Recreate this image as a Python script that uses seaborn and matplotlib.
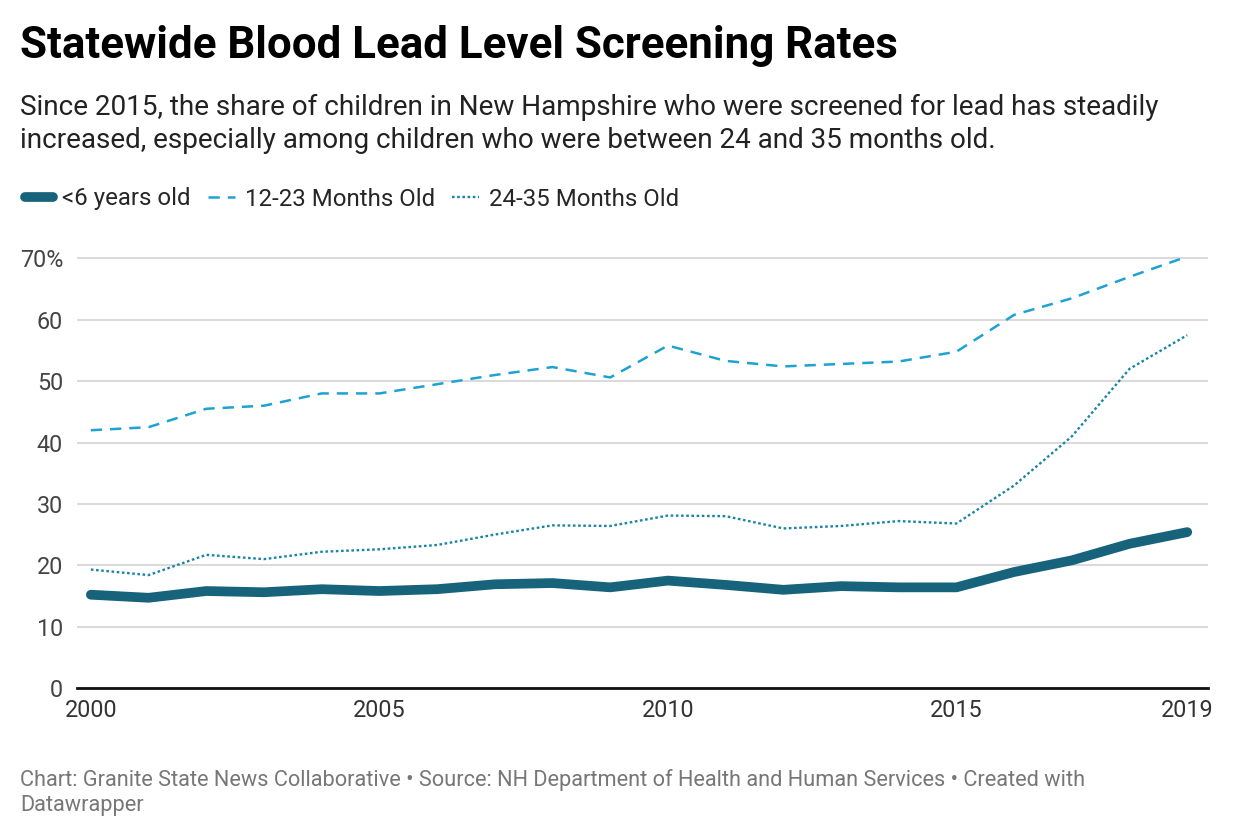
import matplotlib
matplotlib.use("Agg")
import matplotlib.pyplot as plt
import seaborn as sns
import pandas as pd

years = list(range(2000, 2020))
under_6 = [15.2, 14.7, 15.8, 15.6, 16.1, 15.8, 16.1, 16.9, 17.1, 16.4,
           17.5, 16.8, 16.0, 16.6, 16.4, 16.4, 18.9, 20.8, 23.5, 25.4]
months_12_23 = [42.0, 42.5, 45.5, 46.0, 48.0, 48.0, 49.5, 51.0, 52.3, 50.6,
                55.8, 53.3, 52.4, 52.8, 53.2, 54.8, 60.8, 63.5, 67.0, 70.3]
months_24_35 = [19.3, 18.4, 21.7, 21.0, 22.2, 22.6, 23.3, 25.0, 26.5, 26.4,
                28.1, 28.0, 26.0, 26.4, 27.2, 26.8, 33.0, 41.0, 52.0, 57.5]
series_names = ["<6 years old", "12-23 Months Old", "24-35 Months Old"]
y_ticks = [0, 10, 20, 30, 40, 50, 60, 70]
x_ticks = [2000, 2005, 2010, 2015, 2019]

df = pd.DataFrame({"year": years, series_names[0]: under_6,
                   series_names[1]: months_12_23, series_names[2]: months_24_35})

sns.set_style("white")
plt.rcParams["font.family"] = ["Roboto", "DejaVu Sans"]

fig = plt.figure(figsize=(12.4, 8.4), dpi=100)
ax = fig.add_axes([77 / 1240, 152 / 840, 1131 / 1240, 448 / 840])

sns.lineplot(data=df, x="year", y=series_names[1], ax=ax, color="#1ea2d2",
             linewidth=1.8, label=series_names[1])
ax.lines[-1].set_dashes([4.5, 3.2])
sns.lineplot(data=df, x="year", y=series_names[2], ax=ax, color="#1a84a6",
             linewidth=1.7, label=series_names[2])
ax.lines[-1].set_dashes([1.1, 1.1])
sns.lineplot(data=df, x="year", y=series_names[0], ax=ax, color="#17637c",
             linewidth=7, label=series_names[0], solid_capstyle="round")

ax.set_xlim(1999.76, 2019.36)
ax.set_ylim(0, 73)
ax.set_yticks(y_ticks)
ax.set_yticklabels([str(v) if v != 70 else "70%" for v in y_ticks])
ax.set_xticks(x_ticks)
ax.set_xticklabels([str(v) for v in x_ticks])
ax.grid(axis="y", color="#d7d7d7", linewidth=1.3)
ax.grid(axis="x", visible=False)
ax.set_axisbelow(True)
for s in ["top", "right", "left"]:
    ax.spines[s].set_visible(False)
ax.spines["bottom"].set_color("#111111")
ax.spines["bottom"].set_linewidth(2)
ax.tick_params(axis="y", length=0, pad=10, labelsize=16.8, labelcolor="#444444")
ax.tick_params(axis="x", length=0, pad=8, labelsize=16.8, labelcolor="#333333")
ax.set_xlabel("")
ax.set_ylabel("")

# legend in datawrapper order
handles, labels = ax.get_legend_handles_labels()
order = [labels.index(n) for n in series_names]
ax.legend([handles[i] for i in order], [labels[i] for i in order],
          loc="center left", bbox_to_anchor=(25 / 1240, 1 - 199 / 840),
          bbox_transform=fig.transFigure, ncol=3, frameon=False,
          fontsize=17.3, handlelength=1.15, handletextpad=0.4,
          columnspacing=0.7, borderaxespad=0, borderpad=0)

fig.text(20 / 1240, 1 - 46 / 840, "Statewide Blood Lead Level Screening Rates",
         fontsize=31.6, fontweight="bold", va="center", ha="left", color="#000000")
fig.text(20 / 1240, 1 - 107 / 840,
         "Since 2015, the share of children in New Hampshire who were screened for lead has steadily",
         fontsize=20.1, va="center", ha="left", color="#222222")
fig.text(20 / 1240, 1 - 140 / 840,
         "increased, especially among children who were between 24 and 35 months old.",
         fontsize=20.1, va="center", ha="left", color="#222222")
fig.text(20 / 1240, 1 - 780 / 840,
         "Chart: Granite State News Collaborative \u2022 Source: NH Department of Health and Human Services \u2022 Created with",
         fontsize=15.7, va="center", ha="left", color="#777777")
fig.text(20 / 1240, 1 - 805 / 840, "Datawrapper",
         fontsize=15.7, va="center", ha="left", color="#777777")

fig.savefig("out.png", dpi=100, facecolor="white")
